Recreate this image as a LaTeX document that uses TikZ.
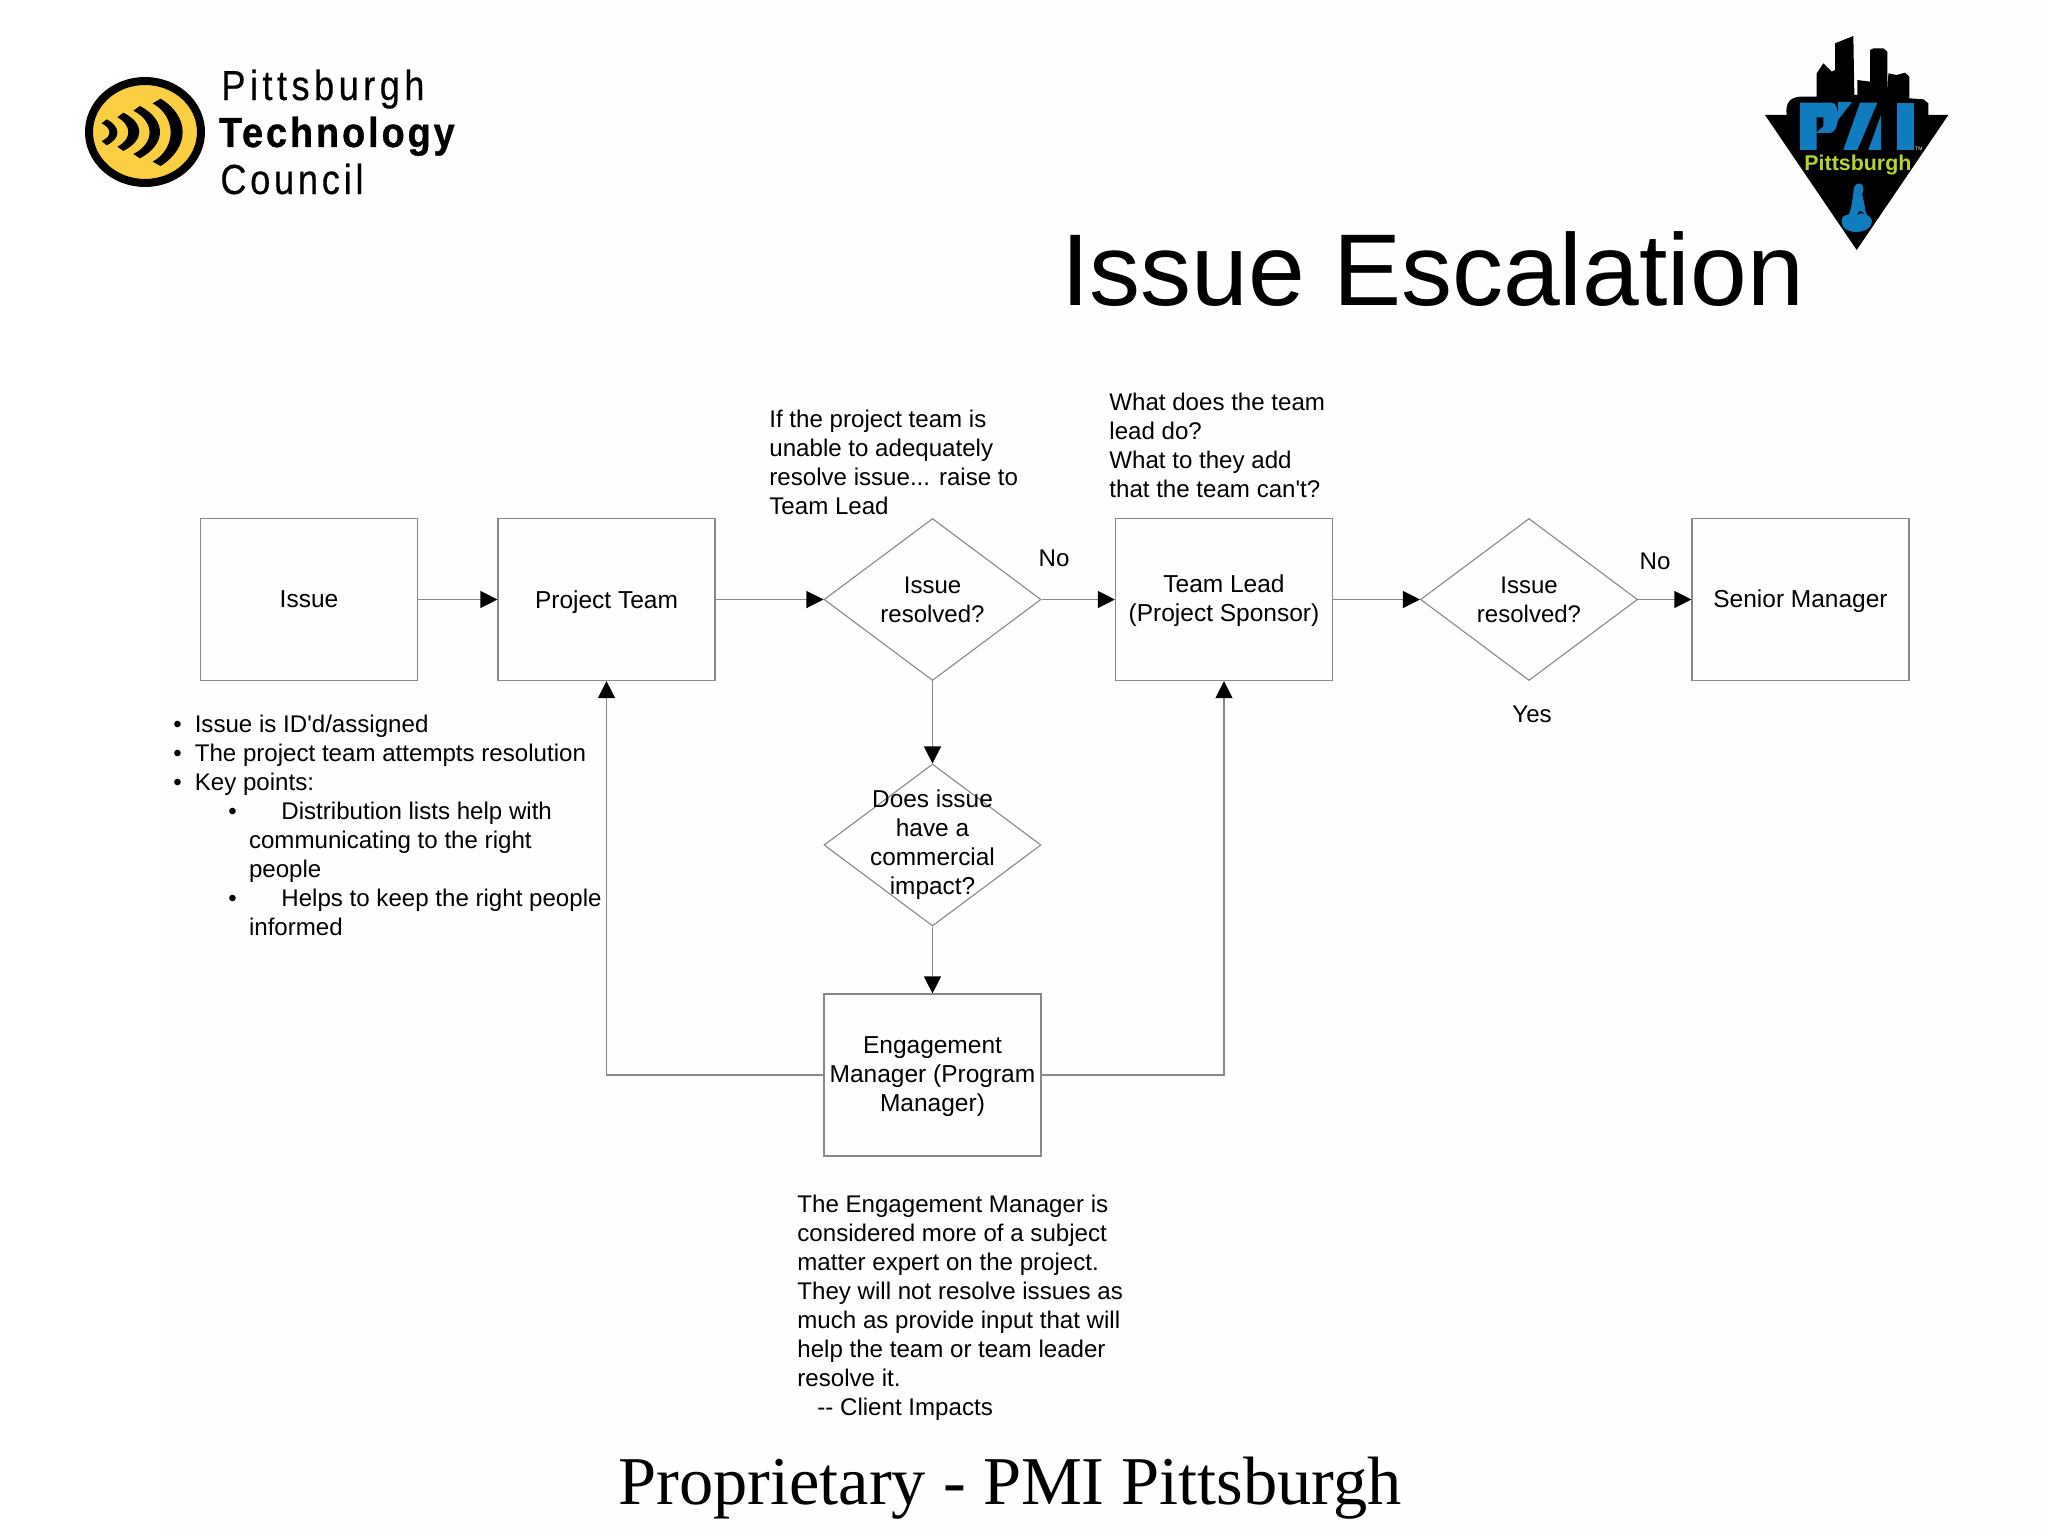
\documentclass[tikz,border=0pt]{standalone}
\usepackage{fontspec}
\setmainfont{Liberation Sans}
\newfontfamily\plainfont{Liberation Sans}
\newfontfamily\timesfont{Liberation Serif}
\newfontfamily\ptcfont[LetterSpace=10.7,FakeStretch=0.86,FakeBold=0.4]{Liberation Sans}
\newfontfamily\ptcfontb[LetterSpace=9,FakeStretch=0.86,FakeBold=0.4]{Liberation Sans}
\newfontfamily\ptcbold[LetterSpace=7,FakeStretch=0.9,FakeBold=0.8]{Liberation Sans Bold}
\usetikzlibrary{arrows.meta,shapes.geometric}
\newcommand{\sq}{{\plainfont'}}
\definecolor{linegray}{HTML}{888888}
\definecolor{ptcyellow}{HTML}{FCCE42}
\definecolor{pmiblue}{HTML}{0F7CC0}
\definecolor{pmigreen}{HTML}{B4D32F}
\definecolor{paper}{HTML}{FEFEFE}
\tikzset{
  boxnode/.style={draw=linegray,line width=0.6pt,minimum width=108.5pt,minimum height=81pt,inner sep=1pt},
  boxlabel/.style={font=\fontsize{12.25}{14.45}\selectfont,align=center,inner sep=0pt},
  dianode/.style={draw=linegray,line width=0.55pt,diamond,aspect=1.34,minimum width=108.5pt,minimum height=81pt,inner sep=0pt},
  dialabel/.style={font=\fontsize{12.2}{14.45}\selectfont,align=center,inner sep=0pt},
  dialabelb/.style={font=\fontsize{12}{14.45}\selectfont,align=center,inner sep=0pt},
  txt/.style={font=\fontsize{12.05}{14.54}\selectfont,align=left,inner sep=0pt},
  conn/.style={draw=linegray,line width=0.6pt,-{Triangle[color=black,fill=black,length=8.5pt,width=8.5pt]}},
}
\begin{document}
\begin{tikzpicture}[x=0.5pt,y=-0.5pt]
\useasboundingbox (0,0) rectangle (2048,1536);
\fill[white] (0,0) rectangle (2048,1536);
\fill[paper] (163,0) rectangle (2048,1536);
% PTC logo
\begin{scope}[shift={(60,40)},scale=0.33333]
\draw[black,fill=ptcyellow,line width=4pt] (255,276) ellipse (168 and 153);
\fill[black] (278,190) -- (302,176) .. controls (390,230) and (390,322) .. (302,378) -- (278,365) .. controls (350,325) and (350,230) .. (278,190) -- cycle;
\fill[black] (220,212) -- (240,198) .. controls (320,240) and (320,312) .. (240,355) -- (220,342) .. controls (285,310) and (285,245) .. (220,212) -- cycle;
\fill[black] (172,232) -- (190,218) .. controls (254,250) and (254,300) .. (190,333) -- (172,320) .. controls (216,298) and (216,255) .. (172,232) -- cycle;
\fill[black] (125,250) -- (140,238) .. controls (183,260) and (183,295) .. (140,316) -- (125,303) .. controls (156,290) and (156,265) .. (125,250) -- cycle;
\end{scope}
\node[anchor=base west,inner sep=0pt,font=\ptcfont\fontsize{21}{24}\selectfont] (ptc1) at (221,100) {Pittsburgh};
\node[anchor=base west,inner sep=0pt,font=\ptcbold\fontsize{21}{24}\selectfont] (ptc2) at (218.5,147) {Technology};
\node[anchor=base west,inner sep=0pt,font=\ptcfontb\fontsize{21}{24}\selectfont] (ptc3) at (220,194) {Council};
% PMI logo
\begin{scope}[shift={(1740,20)},scale=0.33333]
\fill[black] (75,285) -- (140,285) .. controls (135,250) and (150,232) .. (180,230) -- (230,230) -- (230,160) -- (250,130) -- (275,155) -- (285,150) -- (285,70) -- (340,48) -- (343,225) -- (352,225) -- (352,180) -- (390,185) -- (390,90) -- (400,85) -- (430,85) -- (442,95) -- (442,225) -- (445,160) -- (470,165) -- (495,158) -- (508,170) -- (508,235) -- (550,238) -- (565,250) -- (565,285) -- (625,285) -- (350,690) -- cycle;
\fill[pmiblue] (180,248) -- (275,248) .. controls (302,248) and (300,339) .. (270,339) -- (230,339) -- (230,390) -- (180,390) -- cycle;
\fill[black] (230,292) -- (250,292) -- (250,318) -- (230,336) -- cycle;
\fill[pmiblue] (294,246) -- (336,246) -- (294,300) -- cycle;
\fill[pmiblue] (360,248) -- (412,248) -- (352,390) -- (310,390) -- cycle;
\fill[pmiblue] (385,390) -- (423,390) -- (423,285) -- cycle;
\fill[pmiblue] (470,248) -- (522,248) -- (522,390) -- (470,390) -- cycle;
\node[inner sep=0pt,text=white,font=\fontsize{2.5}{3}\selectfont] (pmitm) at (537,385) {TM};
\node[anchor=base west,inner sep=0pt,text=pmigreen,font=\bfseries\fontsize{10.7}{12}\selectfont] (pmitext) at (192,452) {Pittsburgh};
\fill[pmiblue] (343,500) .. controls (350,488) and (368,485) .. (370,505) .. controls (372,515) and (368,515) .. (366,520) .. controls (372,545) and (374,565) .. (380,585) .. controls (390,590) and (398,595) .. (395,610) .. controls (392,625) and (370,636) .. (350,636) .. controls (325,636) and (305,625) .. (305,605) .. controls (305,590) and (312,585) .. (325,585) .. controls (335,570) and (338,530) .. (343,500) -- cycle;
\fill[black] (352,585) .. controls (355,570) and (365,570) .. (372,582) .. controls (365,578) and (358,578) .. (352,585) -- cycle;
\end{scope}
% Titles
\node[anchor=base,inner sep=0pt,font=\fontsize{51}{60}\selectfont] (title) at (1432.5,305) {Issue Escalation};
\node[anchor=base,inner sep=0pt,font=\timesfont\fontsize{34.2}{40}\selectfont] (footer) at (1010,1504.5) {Proprietary - PMI Pittsburgh};
% Flow
\node[boxnode,label={[boxlabel]center:Issue}] (issue) at (309,599.5) {};
\node[boxnode,label={[boxlabel,yshift=-1.1pt]center:Project Team}] (team) at (606.5,599.5) {};
\node[dianode,label={[dialabelb]center:Issue\\resolved?}] (d1) at (932.5,599.5) {};
\node[boxnode,label={[boxlabel,yshift=-0.7pt]center:Team Lead\\(Project Sponsor)}] (lead) at (1224,599.5) {};
\node[dianode,label={[dialabelb]center:Issue\\resolved?}] (d2) at (1529,599.5) {};
\node[boxnode,label={[boxlabel,yshift=-0.7pt]center:Senior Manager}] (senior) at (1800.5,599.5) {};
\node[dianode,label={[dialabel]center:Does issue\\have a\\commercial\\impact?}] (d3) at (932.5,845) {};
\node[boxnode,label={[boxlabel,yshift=-0.7pt]center:Engagement\\Manager (Program\\Manager)}] (em) at (932.5,1075) {};
\draw[conn] (issue) -- (team);
\draw[conn] (team) -- (d1.west);
\draw[conn] (d1.east) -- (lead);
\draw[conn] (lead) -- (d2.west);
\draw[conn] (d2.east) -- (senior);
\draw[conn] (d1.south) -- (d3.north);
\draw[conn] (d3.south) -- (em);
\draw[conn] (em.west) -| (team.south);
\draw[conn] (em.east) -| (lead.south);
% Labels
\node[txt] (no1) at (1054,558) {No};
\node[txt] (no2) at (1655,561) {No};
\node[txt] (yes) at (1532,714) {Yes};
\node[txt,anchor=north west] (t1) at (769,409.5) {If the project team is\\unable to adequately\\resolve issue... raise to\\Team Lead};
\node[txt,anchor=north west] (t2) at (1109,392.5) {What does the team\\lead do?\\What to they add\\that the team can\sq t?};
\node[txt,anchor=north west] (t3) at (173,714.5) {\makebox[10.7pt][l]{•}Issue is ID\sq d/assigned\\
\makebox[10.7pt][l]{•}The project team attempts resolution\\
\makebox[10.7pt][l]{•}Key points:\\
\hspace*{27.5pt}\makebox[26.5pt][l]{•}Distribution lists help with\\
\hspace*{37.8pt}communicating to the right\\
\hspace*{37.8pt}people\\
\hspace*{27.5pt}\makebox[26.5pt][l]{•}Helps to keep the right people\\
\hspace*{37.8pt}informed};
\node[txt,anchor=north west] (t4) at (797,1194.5) {The Engagement Manager is\\considered more of a subject\\matter expert on the project.\\They will not resolve issues as\\much as provide input that will\\help the team or team leader\\resolve it.\\\hspace*{10pt}-{}- Client Impacts};
\end{tikzpicture}
\end{document}
